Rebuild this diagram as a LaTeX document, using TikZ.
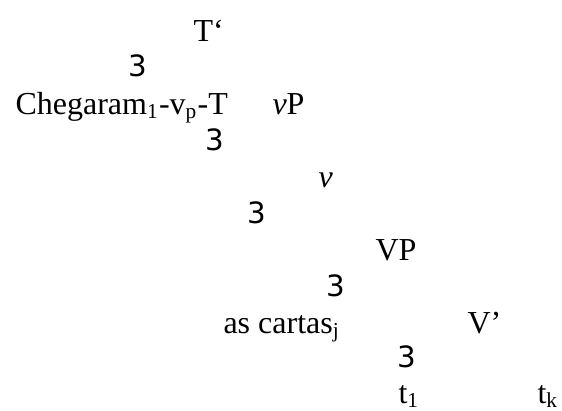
\documentclass[tikz,border=0pt]{standalone}
\usepackage{fontspec}
\setmainfont{Liberation Serif}
\newfontfamily\branchfont{DejaVu Sans}
\usepackage{tikz}
\tikzset{
  label/.style={anchor=base west,inner sep=0pt,font=\fontsize{12}{14}\selectfont},
  branch/.style={inner sep=0pt,font=\branchfont\fontsize{11}{13}\selectfont},
}

\begin{document}
\begin{tikzpicture}[x=0.375pt,y=-0.375pt]
  \useasboundingbox (0,0) rectangle (562,410);
  % T' and its daughters
  \node[label] (Tbar) at (193,41) {T\textquoteleft};
  \node[branch] (br1) at (138,66) {3};
  \node[label] (Tverb) at (15,114) {Chegaram\textsubscript{1}-v\textsubscript{p}-T};
  \node[label] (vP) at (272,114) {\textit{v}P};
  % vP
  \node[branch] (br2) at (215,140) {3};
  \node[label] (v) at (318,187) {\textit{v}};
  \node[branch] (br3) at (257,213) {3};
  % VP
  \node[label] (VP) at (375,260) {VP};
  \node[branch] (br4) at (336,286) {3};
  \node[label] (cartas) at (223,333) {as cartas\textsubscript{j}};
  \node[label] (Vbar) at (467,333) {V\textquoteright};
  \node[branch] (br5) at (407,357) {3};
  \node[label] (t1) at (398,403) {t\textsubscript{1}};
  \node[label] (tk) at (537,403) {t\textsubscript{k}};
\end{tikzpicture}
\end{document}
